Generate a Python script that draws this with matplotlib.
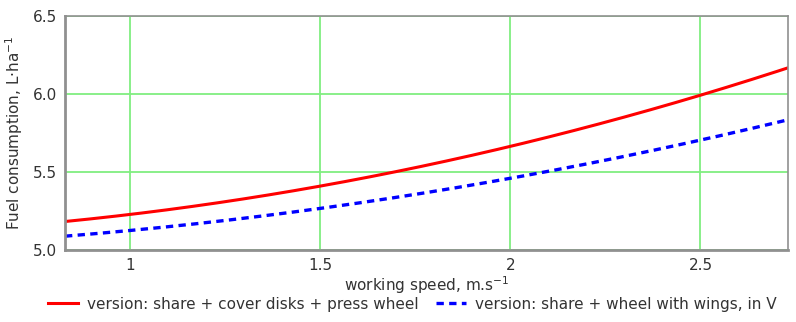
import matplotlib
matplotlib.use("Agg")
import matplotlib.pyplot as plt
import numpy as np

plt.rcParams['font.family'] = ['DejaVu Sans']

speed = [0.83, 1.0, 1.25, 1.5, 1.75, 2.0, 2.25, 2.5, 2.73]
red_vals = [5.18, 5.23, 5.31, 5.41, 5.53, 5.66, 5.82, 5.99, 6.17]
blue_vals = [5.09, 5.12, 5.19, 5.27, 5.36, 5.46, 5.57, 5.70, 5.84]
xticks = [1, 1.5, 2, 2.5]
xticklabels = ["1", "1.5", "2", "2.5"]
yticks = [5.0, 5.5, 6.0, 6.5]
yticklabels = ["5.0", "5.5", "6.0", "6.5"]
red_label = "version: share + cover disks + press wheel"
blue_label = "version: share + wheel with wings, in V"

xs = np.linspace(speed[0], speed[-1], 200)
red_s = np.polyval(np.polyfit(speed, red_vals, 2), xs)
blue_s = np.polyval(np.polyfit(speed, blue_vals, 2), xs)

fig = plt.figure(figsize=(7.96, 3.22), dpi=100)
ax = fig.add_axes([65/796, 1-250/322, (788-65)/796, (250-16)/322])
ax.plot(xs, red_s, color="#ff0000", lw=2.2, label=red_label)
ax.plot(xs, blue_s, color="#0000ff", lw=2.4, ls=(0, (2.2, 1.6)), label=blue_label)
ax.set_xlim(speed[0], speed[-1])
ax.set_ylim(5.0, 6.5)
ax.set_xticks(xticks)
ax.set_xticklabels(xticklabels)
ax.set_yticks(yticks)
ax.set_yticklabels(yticklabels)
ax.grid(True, color="#80ee80", lw=1.3)
ax.set_axisbelow(True)
for s in ax.spines.values():
    s.set_color("#909090")
    s.set_linewidth(1.2)
ax.spines["left"].set_linewidth(2)
ax.spines["bottom"].set_linewidth(2)
ax.tick_params(length=0, labelsize=11, colors="#333333", pad=6)
ax.set_xlabel("working speed, m.s$^{-1}$", fontsize=11, color="#333333", labelpad=1)
ax.set_ylabel("Fuel consumption, L·ha$^{-1}$", fontsize=11, color="#333333", labelpad=5)
fig.legend(loc="center", bbox_to_anchor=(0.518, 0.055), ncol=2, frameon=False,
           fontsize=11, handlelength=2.0, handletextpad=0.6, columnspacing=1.1,
           labelcolor="#333333")
fig.savefig("out.png", dpi=100)
